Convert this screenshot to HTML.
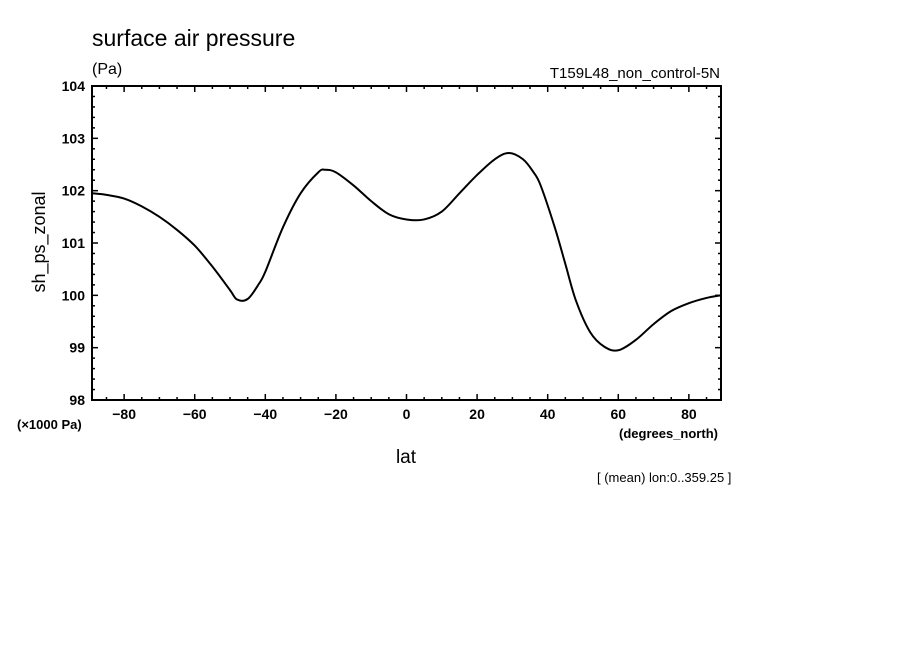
<!DOCTYPE html>
<html><head><meta charset="utf-8"><style>
body{margin:0;background:#fff}
svg text{font-family:"Liberation Sans",sans-serif;fill:#000}
</style></head><body>
<svg id="c" width="904" height="654" viewBox="0 0 904 654" xmlns="http://www.w3.org/2000/svg">
<text x="92" y="46" font-size="23">surface air pressure</text>
<text x="92" y="74" font-size="16">(Pa)</text>
<text x="720" y="78" font-size="15" text-anchor="end">T159L48_non_control-5N</text>
<text transform="translate(45,242) rotate(-90)" font-size="18" text-anchor="middle">sh_ps_zonal</text>
<text x="406" y="463" font-size="19" text-anchor="middle">lat</text>
<text x="17" y="429" font-size="13" font-weight="bold">(×1000 Pa)</text>
<text x="619" y="438" font-size="13" font-weight="bold">(degrees_north)</text>
<text x="597" y="482" font-size="13">[ (mean) lon:0..359.25 ]</text>
<g id="axes"></g>
<g id="series"></g>
<rect x="92" y="86" width="629" height="314" fill="none" stroke="#000" stroke-width="2"/>
</svg>
<script>
const lats=[-89,-85,-80,-75,-70,-65,-60,-55,-50,-48,-45,-42,-40,-35,-30,-25,-23,-20,-15,-10,-5,0,5,10,15,20,25,29,33,36,38,42,45,48,52,56,60,65,70,75,80,85,89];
const vals=[101.95,101.92,101.85,101.7,101.5,101.25,100.95,100.55,100.1,99.92,99.93,100.2,100.45,101.3,101.95,102.35,102.4,102.35,102.1,101.8,101.55,101.45,101.45,101.6,101.95,102.3,102.6,102.72,102.6,102.35,102.1,101.3,100.6,99.9,99.3,99.02,98.95,99.15,99.45,99.7,99.85,99.95,100.0];
const xTicks=[-80,-60,-40,-20,0,20,40,60,80];
const yTicks=[98,99,100,101,102,103,104];
const L=92,R=721,T=86,B=400,XMIN=-89.1,XMAX=89.1,YMIN=98,YMAX=104;
const xs=v=>L+(v-XMIN)/(XMAX-XMIN)*(R-L);
const ys=v=>B-(v-YMIN)/(YMAX-YMIN)*(B-T);
const NS="http://www.w3.org/2000/svg";
const ax=document.getElementById('axes');
function line(x1,y1,x2,y2,name){const l=document.createElementNS(NS,'line');l.setAttribute('x1',x1);l.setAttribute('y1',y1);l.setAttribute('x2',x2);l.setAttribute('y2',y2);l.setAttribute('stroke','#000');l.setAttribute('stroke-width','1.5');


ax.appendChild(l);}
function text(x,y,s,anchor,name){const t=document.createElementNS(NS,'text');t.setAttribute('x',x);t.setAttribute('y',y);t.setAttribute('font-size','14');t.setAttribute('font-weight','bold');t.setAttribute('text-anchor',anchor);t.textContent=s;


ax.appendChild(t);}
for(let v=-85;v<=85;v+=5){const x=xs(v);const major=v%20===0;const len=major?6:3;line(x,B,x,B-len,'x-tick');line(x,T,x,T+len,'x-tick');}
xTicks.forEach(v=>text(xs(v),419,v===0?'0':(v<0?'−'+(-v):String(v)),'middle','x-tick-label'));
for(let i=0;i<=30;i++){const v=YMIN+i*0.2;const y=ys(v);const major=i%5===0;const len=major?6:3;line(L,y,L+len,y,'y-tick');line(R,y,R-len,y,'y-tick');}
yTicks.forEach(v=>text(85,ys(v)+5,String(v),'end','y-tick-label'));
// smooth path via Catmull-Rom
const pts=lats.map((a,i)=>[xs(a),ys(vals[i])]);
let d='M'+pts[0][0]+','+pts[0][1];
for(let i=0;i<pts.length-1;i++){const p0=pts[Math.max(0,i-1)],p1=pts[i],p2=pts[i+1],p3=pts[Math.min(pts.length-1,i+2)];
d+=' C'+(p1[0]+(p2[0]-p0[0])/6)+','+(p1[1]+(p2[1]-p0[1])/6)+' '+(p2[0]-(p3[0]-p1[0])/6)+','+(p2[1]-(p3[1]-p1[1])/6)+' '+p2[0]+','+p2[1];}
const p=document.createElementNS(NS,'path');p.setAttribute('d',d);p.setAttribute('fill','none');p.setAttribute('stroke','#000');p.setAttribute('stroke-width','2');


document.getElementById('series').appendChild(p);
</script>
</body></html>
